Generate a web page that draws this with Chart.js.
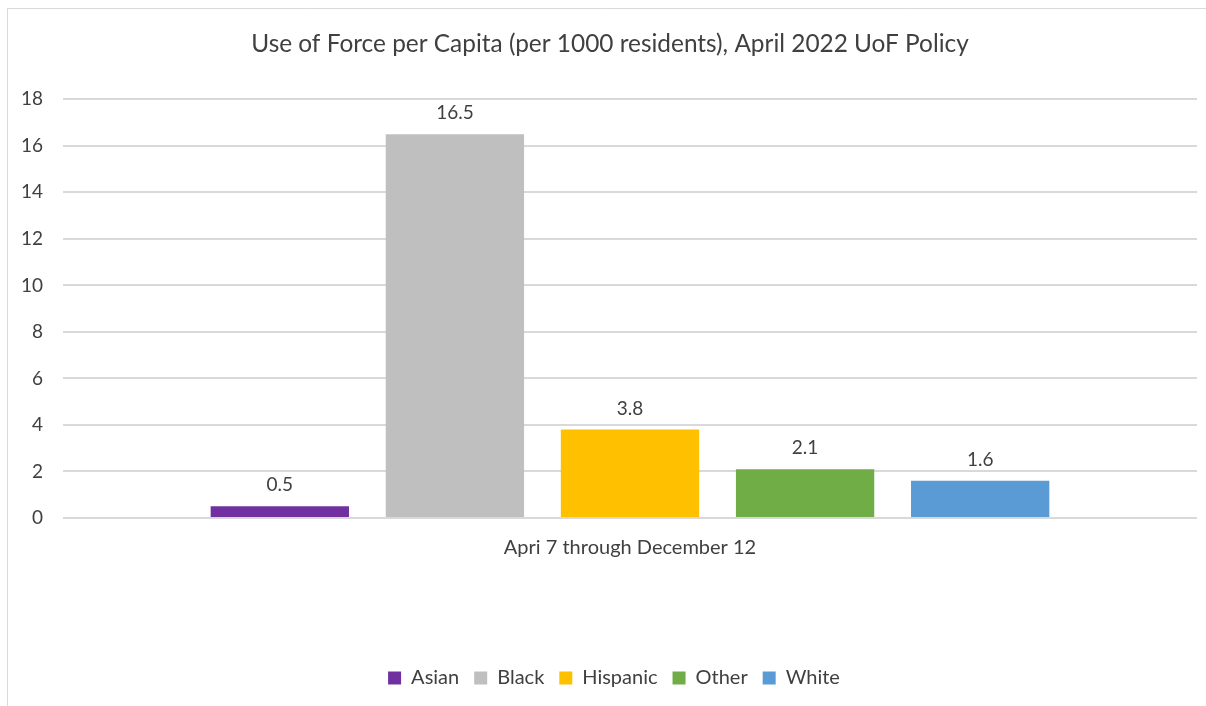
<!DOCTYPE html>
<html>
<head>
<meta charset="utf-8">
<script src="https://cdn.jsdelivr.net/npm/chart.js@4.4.1/dist/chart.umd.min.js"></script>
<style>
  html, body { margin: 0; padding: 0; background: #fff; }
  #wrap { position: relative; width: 1206px; height: 706px; }
</style>
</head>
<body>
<div id="wrap"><canvas id="c" width="1206" height="706"></canvas></div>
<script>
const categories = ["Apri 7 through December 12"];
const seriesNames = ["Asian", "Black", "Hispanic", "Other", "White"];
const asianValues = [0.5];
const blackValues = [16.5];
const hispanicValues = [3.8];
const otherValues = [2.1];
const whiteValues = [1.6];
const seriesColors = ["#7030A0", "#BFBFBF", "#FFC000", "#70AD47", "#5B9BD5"];
const yTicks = [0, 2, 4, 6, 8, 10, 12, 14, 16, 18];
const titleText = "Use of Force per Capita (per 1000 residents), April 2022 UoF Policy";

const FONT = "Lato, 'Open Sans', sans-serif";
const TXT = "#404040";

const allValues = [asianValues, blackValues, hispanicValues, otherValues, whiteValues];

const borderPlugin = {
  id: 'frame',
  afterLayout(chart) {
    if (chart.legend) { chart.legend.left += 12; chart.legend.right += 12; }
    if (chart.titleBlock) { chart.titleBlock.left += 8; chart.titleBlock.right += 8; }
  },
  beforeDraw(chart) {
    const ctx = chart.ctx;
    ctx.save();
    ctx.fillStyle = '#fff';
    ctx.fillRect(0, 0, chart.width, chart.height);
    ctx.strokeStyle = '#d9d9d9';
    ctx.lineWidth = 1;
    ctx.beginPath();
    ctx.moveTo(7.5, chart.height);
    ctx.lineTo(7.5, 8.5);
    ctx.lineTo(chart.width, 8.5);
    ctx.stroke();
    ctx.restore();
  }
};

const labelPlugin = {
  id: 'valueLabels',
  afterDatasetsDraw(chart) {
    const ctx = chart.ctx;
    ctx.save();
    ctx.font = "19px " + FONT;
    ctx.fillStyle = TXT;
    ctx.textAlign = 'center';
    ctx.textBaseline = 'middle';
    chart.data.datasets.forEach((ds, i) => {
      const meta = chart.getDatasetMeta(i);
      meta.data.forEach((bar, j) => {
        ctx.fillText(ds.data[j].toFixed(1), bar.x, bar.y - 21);
      });
    });
    ctx.restore();
  }
};

new Chart(document.getElementById('c'), {
  type: 'bar',
  data: {
    labels: categories,
    datasets: seriesNames.map((n, i) => ({
      label: n,
      data: allValues[i],
      backgroundColor: seriesColors[i],
      borderWidth: 0,
      categoryPercentage: 0.772,
      barPercentage: 0.79
    }))
  },
  options: {
    responsive: false,
    animation: false,
    devicePixelRatio: 1,
    layout: { padding: { left: 7, right: 9, top: 0, bottom: 8 } },
    plugins: {
      title: {
        display: true,
        text: titleText,
        color: TXT,
        font: { family: FONT, size: 24.4, weight: 'normal' },
        padding: { top: 30, bottom: 40 }
      },
      legend: {
        position: 'bottom',
        labels: {
          color: TXT,
          font: { family: FONT, size: 20 },
          boxWidth: 13,
          boxHeight: 13,
          padding: 15
        }
      },
      tooltip: { enabled: false }
    },
    scales: {
      x: {
        grid: { display: false, drawTicks: false },
        border: { display: false },
        ticks: { color: TXT, font: { family: FONT, size: 20 }, padding: 18 },
        afterFit(scale) { scale.height = 135; }
      },
      y: {
        min: 0, max: 18,
        afterBuildTicks(scale) { scale.ticks = yTicks.map(v => ({ value: v })); },
        grid: { color: '#d9d9d9', lineWidth: 2, drawTicks: false },
        border: { display: false },
        ticks: { color: TXT, font: { family: FONT, size: 19 }, padding: 20 },
        afterFit(scale) { scale.width = 56; }
      }
    }
  },
  plugins: [borderPlugin, labelPlugin]
});
</script>
</body>
</html>
